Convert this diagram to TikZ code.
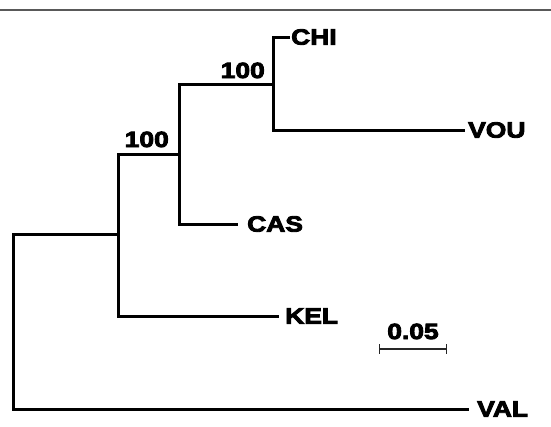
\documentclass[tikz,border=0pt]{standalone}
\usepackage{fontspec}
\setmainfont{Liberation Sans}[FakeStretch=1.2, FakeBold=4]
\begin{document}
\begin{tikzpicture}[x=1pt, y=-1pt,
      branch/.style={line width=3pt, line join=miter},
      leaf/.style={anchor=west, inner sep=0pt, font=\fontsize{22}{24}\selectfont\bfseries},
      boot/.style={anchor=base east, inner sep=0pt, font=\fontsize{22}{24}\selectfont\bfseries},
      scalebar/.style={line width=1.3pt, draw=black!85, {|-|}}
    ]
    \useasboundingbox (0,0) rectangle (551,426);
    % Frame line on top
    \draw[line width=2pt, black!65] (0,10) -- (551,10);

    % Internal nodes and tips
    \coordinate (nR) at (13,321);
    \coordinate (nA) at (118,234);
    \coordinate (nB) at (179,154);
    \coordinate (nC) at (273,84);
    \coordinate (tCHI) at (290,37);
    \coordinate (tVOU) at (465,130);
    \coordinate (tCAS) at (238,224);
    \coordinate (tKEL) at (279,316);
    \coordinate (tVAL) at (469,409);

    % Branches
    \draw[branch] (nA) -| (nR) |- (tVAL);
    \draw[branch] (nB) -| (nA) |- (tKEL);
    \draw[branch] (nC) -| (nB) |- (tCAS);
    \draw[branch] (tCHI) -| (nC) |- (tVOU);

    % Leaf labels
    \node[leaf, xshift=1pt] (CHI) at (tCHI) {CHI};
    \node[leaf, xshift=3pt] (VOU) at (tVOU) {VOU};
    \node[leaf, xshift=9pt] (CAS) at (tCAS) {CAS};
    \node[leaf, xshift=6pt] (KEL) at (tKEL) {KEL};
    \node[leaf, xshift=8pt] (VAL) at (tVAL) {VAL};

    % Bootstrap values
    \node[boot] (bB) at (169,147) {100};
    \node[boot] (bC) at (265,78) {100};

    % Scale bar
    \coordinate (sL) at (379,349);
    \coordinate (sR) at (447,349);
    \draw[scalebar] (sL) -- (sR);
    \node[boot, anchor=base] (sLab) at (413,339) {0.05};
  \end{tikzpicture}
\end{document}
